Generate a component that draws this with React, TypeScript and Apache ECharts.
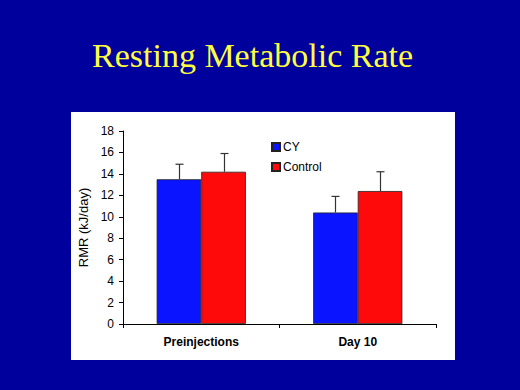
import React, { useEffect, useRef } from "react";
import * as echarts from "echarts";

const categories = ["Preinjections", "Day 10"];
const cyValues = [13.5, 10.4];
const cyErrors = [1.4, 1.5];
const controlValues = [14.2, 12.4];
const controlErrors = [1.7, 1.8];
const yTicks = { min: 0, max: 18, interval: 2 };

const BAR_GAP_CAT = 0.43;

export default function App() {
  const ref = useRef<HTMLDivElement>(null);
  useEffect(() => {
    if (!ref.current) return;
    const chart = echarts.init(ref.current, null, { renderer: "svg" });
    const makeErr = (vals: number[], errs: number[], side: number) => ({
      type: "custom",
      silent: true,
      z: 5,
      data: vals.map((v, i) => [i, v, v + errs[i]]),
      renderItem: (params: any, api: any) => {
        const band = api.size([1, 0])[0];
        const bw = (band * (1 - BAR_GAP_CAT)) / 2;
        const base = api.coord([api.value(0), api.value(1)]);
        const top = api.coord([api.value(0), api.value(2)]);
        const x = Math.round(base[0] + (side * bw) / 2) + 0.5;
        return {
          type: "group",
          children: [
            {
              type: "line",
              shape: { x1: x, y1: base[1], x2: x, y2: top[1] },
              style: { stroke: "#333", lineWidth: 1.2 },
            },
            {
              type: "line",
              shape: { x1: x - 4, y1: top[1], x2: x + 4, y2: top[1] },
              style: { stroke: "#333", lineWidth: 1.2 },
            },
          ],
        };
      },
    });
    chart.setOption({
      animation: false,
      backgroundColor: "#00009c",
      title: {
        text: "Resting Metabolic Rate",
        left: 87,
        top: 33,
        textStyle: {
          color: "#ffff40",
          fontFamily: "Liberation Serif",
          fontSize: 34,
          fontWeight: "normal",
        },
      },
      graphic: [
        {
          type: "rect",
          z: -10,
          shape: { x: 71, y: 112, width: 384, height: 248 },
          style: { fill: "#ffffff" },
        },
      ],
      legend: {
        orient: "vertical",
        left: 266,
        top: 136,
        itemWidth: 8,
        itemHeight: 8,
        itemGap: 8,
        icon: "rect",
        textStyle: { color: "#000", fontFamily: "Liberation Sans", fontSize: 12, padding: [0, 0, 0, -2] },
        data: ["CY", "Control"],
      },
      grid: { left: 123, right: 84, top: 131, bottom: 66 },
      xAxis: {
        type: "category",
        data: categories,
        axisLine: { lineStyle: { color: "#000", width: 1 } },
        axisTick: { show: true, length: 4, lineStyle: { color: "#000" } },
        axisLabel: {
          color: "#000",
          fontFamily: "Liberation Sans",
          fontSize: 12,
          fontWeight: "bold",
          margin: 12,
        },
      },
      yAxis: {
        type: "value",
        min: yTicks.min,
        max: yTicks.max,
        interval: yTicks.interval,
        name: "RMR (kJ/day)",
        nameLocation: "middle",
        nameGap: 29,
        nameTextStyle: { color: "#000", fontFamily: "Liberation Sans", fontSize: 13 },
        axisLine: { show: true, lineStyle: { color: "#000", width: 1 } },
        axisTick: { show: true, length: 4, lineStyle: { color: "#000" } },
        axisLabel: { color: "#000", fontFamily: "Liberation Sans", fontSize: 12, margin: 9 },
        splitLine: { show: false },
      },
      series: [
        {
          name: "CY",
          type: "bar",
          data: cyValues,
          barGap: "0%",
          barCategoryGap: BAR_GAP_CAT * 100 + "%",
          itemStyle: { color: "#0a14ff", borderColor: "#222", borderWidth: 0.8 },
        },
        {
          name: "Control",
          type: "bar",
          data: controlValues,
          barGap: "0%",
          barCategoryGap: BAR_GAP_CAT * 100 + "%",
          itemStyle: { color: "#ff0a0a", borderColor: "#222", borderWidth: 0.8 },
        },
        makeErr(cyValues, cyErrors, -1),
        makeErr(controlValues, controlErrors, 1),
      ],
    });
    return () => chart.dispose();
  }, []);
  return (
    <div
      ref={ref}
      style={{ position: "fixed", left: 0, top: 0, width: 520, height: 390 }}
    />
  );
}
